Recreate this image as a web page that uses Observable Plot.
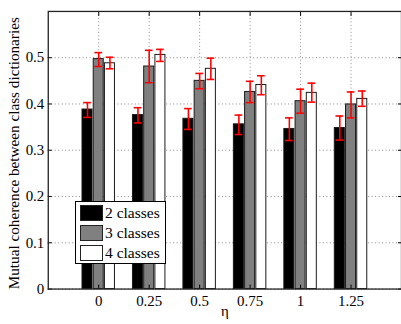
<!DOCTYPE html>
<html>
<head>
<meta charset="utf-8">
<script src="https://cdn.jsdelivr.net/npm/d3@7"></script>
<script src="https://cdn.jsdelivr.net/npm/@observablehq/plot@0.6"></script>
<style>
  html, body { margin: 0; padding: 0; background: #fff; overflow: hidden; }
  #wrap { position: relative; width: 401px; height: 324px; overflow: hidden; }
  #legend { position: absolute; left: 75px; top: 201px; width: 91px; height: 63px;
    background: #fff; border: 1px solid #000; box-sizing: border-box;
    font-family: "Liberation Serif", "Times New Roman"; font-size: 15.5px; }
  .row { position: absolute; left: 4px; height: 16px; display: flex; align-items: center; }
  .sw { width: 23px; height: 16px; box-sizing: border-box; border: 1px solid #222; margin-right: 2px; }
  svg text { font-family: "Liberation Serif", "Times New Roman" !important; }
</style>
</head>
<body>
<div id="wrap"><div id="chart"></div><div id="legend"></div></div>
<script>
const etas = [0, 0.25, 0.5, 0.75, 1, 1.25];
const classes = ["2 classes", "3 classes", "4 classes"];
const mean2 = [0.388, 0.376, 0.368, 0.356, 0.346, 0.348];
const lo2   = [0.371, 0.359, 0.345, 0.334, 0.321, 0.322];
const hi2   = [0.403, 0.392, 0.390, 0.376, 0.370, 0.374];
const mean3 = [0.497, 0.481, 0.450, 0.426, 0.406, 0.399];
const lo3   = [0.481, 0.446, 0.433, 0.403, 0.380, 0.370];
const hi3   = [0.511, 0.516, 0.466, 0.449, 0.432, 0.426];
const mean4 = [0.488, 0.506, 0.476, 0.441, 0.424, 0.411];
const lo4   = [0.476, 0.492, 0.453, 0.420, 0.404, 0.395];
const hi4   = [0.501, 0.518, 0.499, 0.461, 0.445, 0.428];
const xTickLabels = ["0", "0.25", "0.5", "0.75", "1", "1.25"];
const yTicks = [0, 0.1, 0.2, 0.3, 0.4, 0.5];

const fills = ["#000000", "#808080", "#ffffff"];
const offsets = [-0.0556, 0, 0.0556];
const halfW = 0.0248;
const capW = 0.019;

const series = [[mean2, lo2, hi2], [mean3, lo3, hi3], [mean4, lo4, hi4]];
const data = [];
series.forEach(([m, lo, hi], c) => {
  etas.forEach((e, i) => {
    data.push({eta: e, cls: classes[c], ci: c, xc: e + offsets[c], value: m[i], lo: lo[i], hi: hi[i]});
  });
});

const font = "'Liberation Serif', 'Times New Roman'";
const chart = Plot.plot({
  width: 403,
  height: 324,
  marginLeft: 48,
  marginRight: 0,
  marginTop: 11,
  marginBottom: 34,
  style: {fontFamily: font, fontSize: "15px", color: "#000", background: "#fff", overflow: "visible"},
  x: {domain: [-0.25, 1.5]},
  y: {domain: [0, 0.6]},
  color: {domain: classes, range: fills},
  marks: [
    Plot.gridX(etas, {stroke: "#888", strokeOpacity: 1, strokeDasharray: "1,2.5"}),
    Plot.gridY(yTicks, {stroke: "#888", strokeOpacity: 1, strokeDasharray: "1,2.5"}),
    Plot.rectY(data, {x1: d => d.xc - halfW, x2: d => d.xc + halfW, y: "value", fill: "cls", stroke: "#1a1a1a", strokeWidth: 1}),
    Plot.ruleX(data, {x: "xc", y1: "lo", y2: "hi", stroke: "#ff0000", strokeWidth: 1.6}),
    Plot.ruleY(data, {y: "hi", x1: d => d.xc - capW, x2: d => d.xc + capW, stroke: "#ff0000", strokeWidth: 1.6}),
    Plot.ruleY(data, {y: "lo", x1: d => d.xc - capW, x2: d => d.xc + capW, stroke: "#ff0000", strokeWidth: 1.6}),
    Plot.axisX(etas, {anchor: "bottom", tickSize: 0, tickPadding: 6, tickFormat: (d, i) => xTickLabels[i], label: null, fontSize: 15}),
    Plot.axisX(etas, {anchor: "bottom", tickSize: -4, tickFormat: () => "", label: null}),
    Plot.axisX(etas, {anchor: "top", tickSize: -4, tickFormat: () => "", label: null}),
    Plot.axisY(yTicks, {anchor: "left", tickSize: 0, tickPadding: 4, tickFormat: d => String(d), label: null, fontSize: 15}),
    Plot.axisY(yTicks, {anchor: "left", tickSize: -4, tickFormat: () => "", label: null}),
    Plot.axisY(yTicks, {anchor: "right", tickSize: -4, tickFormat: () => "", label: null}),
    Plot.frame({stroke: "#222", strokeWidth: 1.3}),
    Plot.text(["η"], {frameAnchor: "bottom", dy: 27, fontSize: 15, fill: "#000"}),
    Plot.text(["Mutual coherence between class dictionaries"], {frameAnchor: "left", textAnchor: "middle", dx: -34, dy: 3, rotate: -90, fontSize: 15.3, fill: "#000", lineWidth: 100})
  ]
});
document.getElementById("chart").appendChild(chart);

const legend = document.getElementById("legend");
classes.forEach((c, i) => {
  const row = document.createElement("div");
  row.className = "row";
  row.style.top = (3 + i * 20) + "px";
  const sw = document.createElement("div");
  sw.className = "sw";
  sw.style.background = fills[i];
  row.appendChild(sw);
  const t = document.createElement("span");
  t.textContent = c;
  row.appendChild(t);
  legend.appendChild(row);
});
</script>
</body>
</html>
